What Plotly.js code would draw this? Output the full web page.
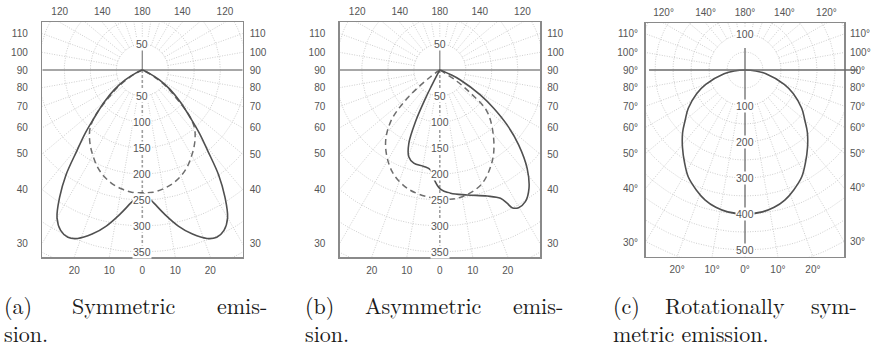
<!DOCTYPE html>
<html><head><meta charset="utf-8">
<script src="https://cdn.plot.ly/plotly-3.0.1.min.js"></script>
<style>html,body{margin:0;padding:0;background:#fff;}#chart{width:873px;height:347px;}</style>
</head><body><div id="chart"></div>
<script>
// ---------------- DATA (angle from nadir in degrees, negative = left half; intensity) ----------------
// (a) symmetric emission
const anglesA = [-90,-70,-65,-60,-55,-50,-45,-42,-39,-36,-33,-30,-27,-24,-21,-17,-13,-9,-5,-2,0,2,5,9,13,17,21,24,27,30,33,36,39,42,45,50,55,60,65,70,90];
const solidA  = [0,3,14,38,65,95,132,165,200,250,292,328,346,352,347,330,308,282,257,242,237,242,257,282,308,330,347,352,346,328,292,250,200,165,132,95,65,38,14,3,0];
const dashAnglesA = [-90,-70,-65,-60,-55,-50,-46,-42,-38,-34,-30,-25,-20,-15,-10,-5,0,5,10,15,20,25,30,34,38,42,46,50,55,60,65,70,90];
const dashedA     = [0,0,8,28,58,88,125,150,165,178,190,205,217,226,232,236,236,236,232,226,217,205,190,178,165,150,125,88,58,28,8,0,0];
// (b) asymmetric emission
const anglesB = [-90,-31,-29,-27.5,-26.8,-25.2,-22.9,-19.7,-15.6,-9.4,-5.3,-3.2,0,5,12.4,20.6,25.3,26.8,27.7,29.8,33,37,41.6,46.5,50.8,54.7,58.4,64.2,67,70,90];
const solidB  = [0,0,8,35,61,110,153,177,186,188,193,209,228,238,246,259,273,287,299,305,302,285,253,209,167,127,92,44,22,8,0];
const dashAnglesB = [-90,-58,-54,-49,-43.6,-35.9,-25.1,-15.4,-5.7,0,7.7,19.5,29.7,38.3,48.7,53,57,62,90];
const dashedB     = [0,0,22,83,137,178,216,236,245,247,249,235,203,167,121,75,35,0,0];
// (c) rotationally symmetric emission
const anglesC = [-90,-85,-80,-70,-64,-56,-50,-45,-39,-33,-28,-22,-17,-12,-7,0,7,12,17,22,28,33,39,45,50,56,64,70,80,85,90];
const solidC  = [0,30,59,116,149,190,217,245,276,308,336,360,378,390,397,400,397,390,378,360,336,308,276,245,217,190,149,116,59,30,0];

// tick labels
const sideAngles   = [30,40,50,60,70,80,90,100,110];
const topAngles    = [120,140,180,140,120];
const topSides     = [-1,-1,0,1,1];
const bottomAngles = [20,10,0,10,20];
const bottomSides  = [-1,-1,0,1,1];
const radialLabelsAB = [50,100,150,200,250,300,350];
const upperLabelAB = 50;
const radialLabelsC  = [100,200,300,400,500];
const upperLabelC = 100;
const captions = [
  {line1:['(a)','Symmetric','emis-'], line2:'sion.'},
  {line1:['(b)','Asymmetric','emis-'], line2:'sion.'},
  {line1:['(c)','Rotationally','sym-'], line2:'metric emission.'}
];

// ---------------- LAYOUT GEOMETRY (pixels) ----------------
const W = 873, H = 347;
const panels = [
  {n:1, xt:4, left:42.3, right:242.7, top:22.3, bottom:257, cx:142.3, cy:70, k:0.52, deg:'', step:50, cmax:500, rad0:50, stem:50,
   solidAng:anglesA, solid:solidA, dashAng:dashAnglesA, dash:dashedA, lab:radialLabelsAB, up:upperLabelAB,
   padL:11, padR:4, capX:[3,268]},
  {n:2, xt:5, left:339.8, right:540.2, top:22.3, bottom:257, cx:439.8, cy:70, k:0.52, deg:'', step:50, cmax:500, rad0:50, stem:50,
   solidAng:anglesB, solid:solidB, dashAng:dashAnglesB, dash:dashedB, lab:radialLabelsAB, up:upperLabelAB,
   padL:11, padR:4, capX:[304,564]},
  {n:3, xt:6, left:645.5, right:844, top:23, bottom:256.5, cx:745, cy:70, k:0.36, deg:'°', step:50, cmax:650, rad0:100, stem:61,
   solidAng:anglesC, solid:solidC, dashAng:null, dash:null, lab:radialLabelsC, up:upperLabelC,
   padL:4, padR:3, capX:[612,858]}
];

const D2R = Math.PI/180;
function xy(angs, vals){
  const x=[], y=[];
  for(let i=0;i<angs.length;i++){ x.push(vals[i]*Math.sin(angs[i]*D2R)); y.push(-vals[i]*Math.cos(angs[i]*D2R)); }
  return {x, y};
}
const capFamily = 'Latin Modern Roman';
const capSize = 22;
const ctx = document.createElement('canvas').getContext('2d');
ctx.font = capSize + 'px "' + capFamily + '", serif';
const tw = s => ctx.measureText(s).width;

const tickFont = {family:'Liberation Sans', size:10, color:'#555555'};
const gridColor = '#c2c2c2';
const traces = [], annotations = [], shapes = [];
const layout = {width:W, height:H, margin:{l:0,r:0,t:0,b:0}, paper_bgcolor:'#fff', plot_bgcolor:'rgba(0,0,0,0)',
  showlegend:false, hovermode:false};

panels.forEach((p, idx) => {
  const xs = p.n===1 ? '' : String(p.n), ys = xs;
  const xa = 'x'+xs, ya = 'y'+ys, xtop = 'x'+p.xt, yrt = 'y'+p.xt;
  const xr = [-(p.cx-p.left)/p.k, (p.right-p.cx)/p.k];
  const yr = [-(p.bottom-p.cy)/p.k, (p.cy-p.top)/p.k];
  const dx = [p.left/W, p.right/W], dy = [1-p.bottom/H, 1-p.top/H];
  const base = {range:xr, autorange:false, showgrid:false, zeroline:false, fixedrange:true};
  const lineStyle = {showline:true, mirror:true, linecolor:'#8a8a8a', linewidth:1.5};
  const hidTick = {ticks:'outside', tickcolor:'rgba(0,0,0,0)', tickfont:tickFont};
  layout['xaxis'+xs] = Object.assign({}, base, lineStyle, hidTick, {domain:dx, anchor:ya, ticklen:3,
    tickvals: bottomAngles.map((a,i)=> bottomSides[i]*(-yr[0])*Math.tan(a*D2R)),
    ticktext: bottomAngles.map(a=> a+p.deg)});
  layout['xaxis'+p.xt] = Object.assign({}, base, hidTick, {overlaying:xa, side:'top', anchor:ya, ticklen:2,
    tickvals: topAngles.map((a,i)=> topSides[i]===0 ? 0 : topSides[i]*(-yr[1])*Math.tan(a*D2R)),
    ticktext: topAngles.map(a=> a+p.deg)});
  layout['yaxis'+ys] = Object.assign({}, base, lineStyle, hidTick, {range:yr, domain:dy, anchor:xa, ticklen:p.padL,
    tickvals: sideAngles.map(a=> xr[0]*Math.cos(a*D2R)/Math.sin(a*D2R)),
    ticktext: sideAngles.map(a=> a+p.deg)});
  layout['yaxis'+p.xt] = Object.assign({}, base, hidTick, {range:yr, overlaying:ya, side:'right', anchor:xa, ticklen:p.padR,
    tickvals: sideAngles.map(a=> -xr[1]*Math.cos(a*D2R)/Math.sin(a*D2R)),
    ticktext: sideAngles.map(a=> a+p.deg)});
  traces.push({type:'scatter', mode:'lines', x:[null], y:[null], xaxis:xtop, yaxis:ya, hoverinfo:'skip'});
  traces.push({type:'scatter', mode:'lines', x:[null], y:[null], xaxis:xa, yaxis:yrt, hoverinfo:'skip'});

  // grid circles
  const cx=[], cy=[];
  for(let r=p.step; r<=p.cmax; r+=p.step){
    for(let a=0;a<=360;a+=2){ cx.push(r*Math.sin(a*D2R)); cy.push(-r*Math.cos(a*D2R)); }
    cx.push(null); cy.push(null);
  }
  traces.push({type:'scatter', mode:'lines', x:cx, y:cy, xaxis:xa, yaxis:ya, hoverinfo:'skip',
    line:{color:gridColor, width:0.8, dash:'1px,1.5px'}});
  // radial lines every 10 degrees
  const rx=[], ry=[], R=2000;
  for(let a=10;a<360;a+=10){
    if(a===90 || a===270) continue;
    rx.push(p.rad0*Math.sin(a*D2R), R*Math.sin(a*D2R), null);
    ry.push(-p.rad0*Math.cos(a*D2R), -R*Math.cos(a*D2R), null);
  }
  traces.push({type:'scatter', mode:'lines', x:rx, y:ry, xaxis:xa, yaxis:ya, hoverinfo:'skip',
    line:{color:gridColor, width:0.8, dash:'1px,1.5px'}});
  if(p.n===3){
    traces.push({type:'scatter', mode:'lines', x:[0,0], y:[yr[0], p.stem], xaxis:xa, yaxis:ya, hoverinfo:'skip',
      line:{color:'#6a6a6a', width:1.3}});
    shapes.push({type:'line', xref:xa+' domain', yref:ya, x0:0.018, x1:1.07, y0:0, y1:0,
      line:{color:'#6a6a6a', width:1.3}});
  } else {
    traces.push({type:'scatter', mode:'lines', x:[0,0], y:[0,yr[0]], xaxis:xa, yaxis:ya, hoverinfo:'skip',
      line:{color:'#a0a0a0', width:1.6, dash:'3px,2px'}});
    traces.push({type:'scatter', mode:'lines', x:[0,0], y:[0,p.stem], xaxis:xa, yaxis:ya, hoverinfo:'skip',
      line:{color:'#8a8a8a', width:1.3}});
    traces.push({type:'scatter', mode:'lines', x:[xr[0],xr[1]], y:[0,0], xaxis:xa, yaxis:ya, hoverinfo:'skip',
      line:{color:'#8a8a8a', width:1.3}});
  }
  if(p.dash){
    const d = xy(p.dashAng, p.dash);
    traces.push({type:'scatter', mode:'lines', x:d.x, y:d.y, xaxis:xa, yaxis:ya, hoverinfo:'skip',
      line:{color:'#6e6e6e', width:1.5, dash:'6px,4px', shape:'spline', smoothing:1}});
  }
  const s = xy(p.solidAng, p.solid);
  traces.push({type:'scatter', mode:'lines', x:s.x, y:s.y, xaxis:xa, yaxis:ya, hoverinfo:'skip',
    line:{color:'#505050', width:1.6, shape:'spline', smoothing:1}});

  const labFont = {family:'Liberation Sans', size:10.5, color:'#555555'};
  p.lab.forEach(v => annotations.push({xref:xa, yref:ya, x:0, y:-v, text:String(v), showarrow:false,
    font:labFont, bgcolor:'#ffffff', borderpad:0}));
  annotations.push({xref:xa, yref:ya, x:0, y:p.up, text:String(p.up), showarrow:false,
    font:labFont, bgcolor:'#ffffff', borderpad:0});

  // justified caption (first line), ragged second line
  const capFont = {family:capFamily, size:capSize, color:'#1a1a1a'};
  const c = captions[idx];
  const [x0, x1] = p.capX;
  const w0 = tw(c.line1[0]), w2 = tw(c.line1[2]);
  const midX = ((x0 + w0) + (x1 - w2)) / 2;
  const line1Pos = [[x0,'left'], [midX,'center'], [x1,'right']];
  c.line1.forEach((w,i) => annotations.push({xref:'paper', yref:'paper', x:line1Pos[i][0]/W, y:1-304.5/H,
    xanchor:line1Pos[i][1], yanchor:'middle', text:w, showarrow:false, font:capFont, borderpad:0}));
  annotations.push({xref:'paper', yref:'paper', x:x0/W, y:1-332.4/H, xanchor:'left', yanchor:'middle',
    text:c.line2, showarrow:false, font:capFont, borderpad:0});
});
layout.annotations = annotations;
layout.shapes = shapes;
Plotly.newPlot('chart', traces, layout, {staticPlot:true, displayModeBar:false});
</script></body></html>
